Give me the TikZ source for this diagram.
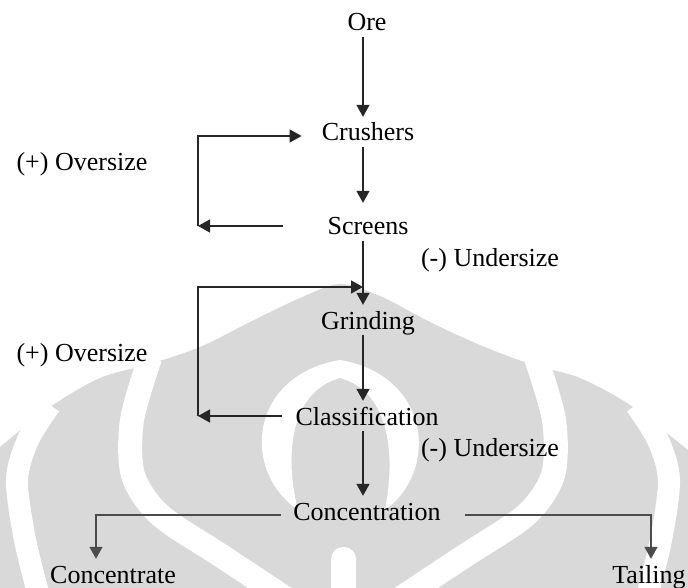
\documentclass[tikz,border=0pt]{standalone}
\usepackage{fontspec}
\setmainfont{Liberation Serif}
\usetikzlibrary{arrows.meta}
\begin{document}
\begin{tikzpicture}[x=1pt,y=-1pt,
  wm/.style={fill=black!15, draw=none},
  wb/.style={draw=white, line width=22pt, line cap=butt},
  lbl/.style={font=\fontsize{26}{30}\selectfont, inner sep=0pt, text height=18pt, text depth=0pt, inner ysep=6pt, anchor=base},
  arr/.style={draw=black!85, line width=1.5pt, -{Triangle[length=12pt,width=13pt]}},
  brarr/.style={arr, draw=black!70}]
\useasboundingbox (0,0) rectangle (688,588);
% watermark
\fill[wm] plot[smooth] coordinates {(0,447) (50,407) (100,378) (150,364) (200,347) (250,322) (300,298) (340,284) (380,296) (430,322) (480,345) (530,364) (580,378) (630,405) (688,450)} -- (688,600) -- (0,600) -- cycle;
\draw[wb] plot[smooth] coordinates {(40,600) (25,540) (17,480) (28,440) (50,405)};
\draw[wb] plot[smooth] coordinates {(646,600) (661,540) (669,480) (658,440) (636,405)};
\draw[wb, line width=24pt] plot[smooth] coordinates {(150,358) (132,420) (133,475) (160,515) (220,555) (285,598)};
\draw[wb, line width=24pt] plot[smooth] coordinates {(536,358) (554,420) (553,475) (526,515) (466,555) (401,598)};
\fill[white] (298,510) .. controls (240,470) and (250,375) .. (340,360) .. controls (430,375) and (440,470) .. (385,510) .. controls (395,460) and (392,392) .. (340,378) .. controls (288,392) and (285,460) .. cycle;
\fill[white, rounded corners=12pt] (331,610) -- (331,547) -- (356,547) -- (356,610) -- cycle;
% guide coordinates
\coordinate (axis) at (363,0);
\coordinate (lx) at (198,0);
\coordinate (bx1) at (96,0);
\coordinate (bx2) at (651,0);
% nodes
\node[lbl] (ore) at (367,31) {Ore};
\node[lbl] (crushers) at (368,141) {Crushers};
\node[lbl] (screens) at (368,235) {Screens};
\node[lbl] (grinding) at (368,329) {Grinding};
\node[lbl] (class) at (367,425) {Classification};
\node[lbl] (conc) at (367,520) {Concentration};
\node[lbl] (concentrate) at (113,583) {Concentrate};
\node[lbl] (tailing) at (649,583) {Tailing};
\node[lbl] (over1) at (82,171) {(+) Oversize};
\node[lbl] (over2) at (82,361) {(+) Oversize};
\node[lbl] (under1) at (490,266) {(-) Undersize};
\node[lbl] (under2) at (490,456) {(-) Undersize};
% main line
\draw[arr] (ore.south -| axis) -- (crushers.north -| axis);
\draw[arr, shorten >=8pt] (crushers.south -| axis) -- (screens.north -| axis);
\draw[arr] (screens.south -| axis) -- coordinate[pos=0.72] (j2) (grinding.north -| axis);
\draw[arr] (grinding.south -| axis) -- (class.north -| axis);
\draw[arr] (class.south -| axis) -- (conc.north -| axis);
% loop 1
\draw[arr] ([xshift=-44pt]screens.west) -- (screens.west -| lx);
\draw[arr] (screens.west -| lx) |- ([xshift=-20pt,yshift=-4pt]crushers.west);
% loop 2
\draw[arr] ([xshift=-13pt]class.west) -- (class.west -| lx);
\draw[arr] (class.west -| lx) |- (j2);
% branches
\draw[brarr] ([xshift=-12pt,yshift=-4pt]conc.west) -| (concentrate.north -| bx1);
\draw[brarr] ([xshift=24pt,yshift=-4pt]conc.east) -| (tailing.north -| bx2);
\end{tikzpicture}
\end{document}
